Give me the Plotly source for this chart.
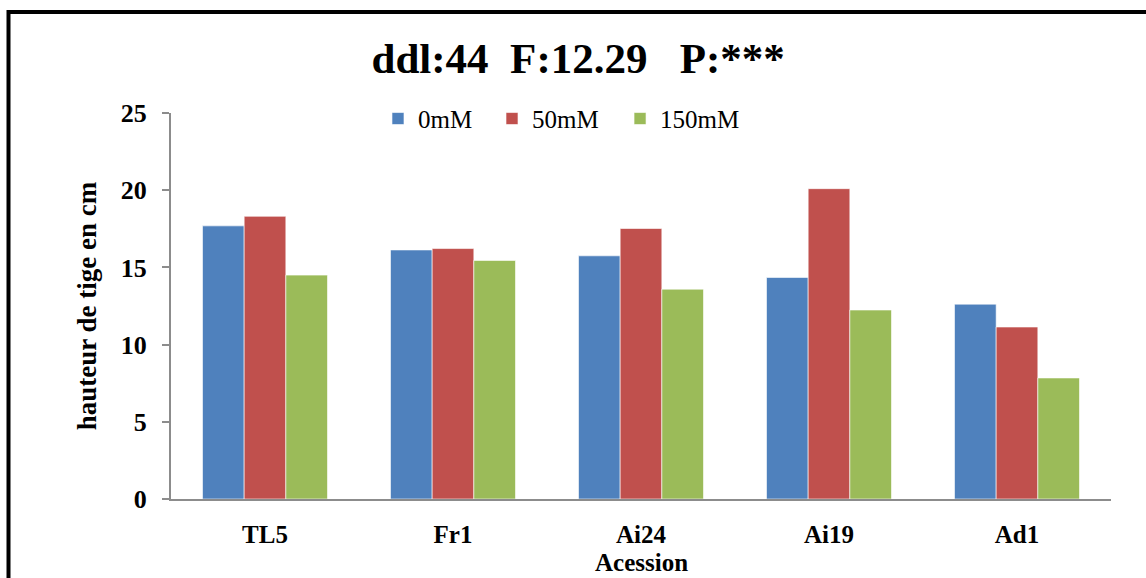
import plotly.graph_objects as go

categories = ["TL5", "Fr1", "Ai24", "Ai19", "Ad1"]
series_names = ["0mM", "50mM", "150mM"]
v_0mM = [17.69, 16.13, 15.75, 14.35, 12.62]
v_50mM = [18.31, 16.22, 17.52, 20.10, 11.14]
v_150mM = [14.50, 15.45, 13.59, 12.24, 7.84]
colors = ["#4F81BD", "#C0504D", "#9BBB59"]
y_ticks = [0, 5, 10, 15, 20, 25]

FONT = "Liberation Serif, Times New Roman, serif"
legend_ids = ["legend", "legend2", "legend3"]
legend_x = [0.2202, 0.3415, 0.4777]

fig = go.Figure()
for name, vals, col, lid in zip(series_names, [v_0mM, v_50mM, v_150mM], colors, legend_ids):
    fig.add_trace(go.Bar(
        x=categories, y=vals, name=name, legend=lid,
        marker=dict(color=col, line=dict(color="rgba(255,255,255,0.6)", width=1)),
    ))

legend_style = dict(orientation="h", xanchor="left", y=0.985, yanchor="middle",
                    font=dict(size=25, family=FONT), bgcolor="rgba(0,0,0,0)",
                    itemwidth=30)

pw, ph = 940.0, 386.0

fig.update_layout(
    width=1146, height=578,
    margin=dict(l=171, r=35, t=113, b=79),
    paper_bgcolor="white", plot_bgcolor="white",
    barmode="group", bargap=0.335, bargroupgap=0,
    font=dict(family=FONT, color="black"),
    title=dict(text="ddl:44  F:12.29   P:***", x=0.5045, xanchor="center",
               y=0.9, yanchor="middle",
               font=dict(size=43, family=FONT, color="black", weight="bold")),
    legend=dict(x=legend_x[0], **legend_style),
    legend2=dict(x=legend_x[1], **legend_style),
    legend3=dict(x=legend_x[2], **legend_style),
    showlegend=True,
)
fig.update_xaxes(
    showline=True, linecolor="#8c8c8c", linewidth=2, ticks="", showgrid=False,
    automargin=False,
    tickfont=dict(size=25, family=FONT, weight="bold"), ticklabelstandoff=12,
)
fig.update_yaxes(
    range=[0, 25], tickvals=y_ticks, showline=True, linecolor="#8c8c8c", linewidth=2,
    ticks="outside", ticklen=7, tickcolor="#8c8c8c", tickwidth=2, showgrid=False,
    zeroline=False, automargin=False,
    tickfont=dict(size=26, family=FONT, weight="bold"), ticklabelstandoff=10,
    title=dict(text="hauteur de tige en cm", font=dict(size=27, family=FONT, weight="bold"), standoff=16),
)

fig.add_annotation(text="Acession", xref="paper", yref="paper",
                   x=0.5, y=(499 - 562) / ph, xanchor="center", yanchor="middle",
                   showarrow=False, borderpad=0,
                   font=dict(size=25, family=FONT, weight="bold", color="black"))

fig.add_shape(type="rect", xref="paper", yref="paper",
              x0=(8.5 - 171) / pw, x1=(1160 - 171) / pw,
              y0=(499 - 600) / ph, y1=(499 - 12) / ph,
              line=dict(color="black", width=4), fillcolor="rgba(0,0,0,0)", layer="above")

fig.write_html("out.html")
